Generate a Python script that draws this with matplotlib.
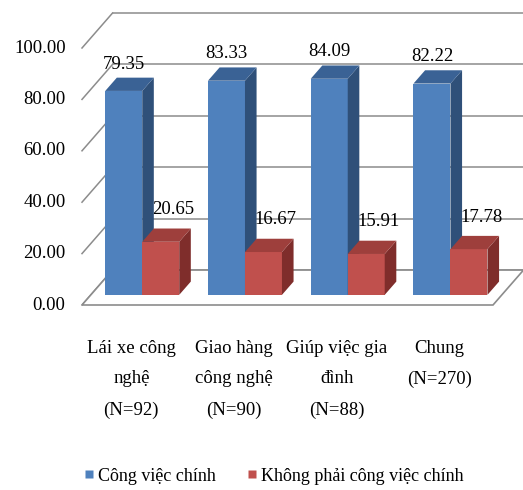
import matplotlib
matplotlib.use('Agg')
import matplotlib.pyplot as plt
from matplotlib.patches import Polygon
from matplotlib.lines import Line2D

plt.rcParams['font.family'] = ['Liberation Serif', 'DejaVu Serif']

# Dữ liệu
nhom = ['Lái xe công\nnghệ\n(N=92)', 'Giao hàng\ncông nghệ\n(N=90)',
        'Giúp việc gia\nđình\n(N=88)', 'Chung\n(N=270)']
cong_viec_chinh = [79.35, 83.33, 84.09, 82.22]
khong_phai_chinh = [20.65, 16.67, 15.91, 17.78]
nhan_truc_y = [0, 20, 40, 60, 80, 100]
ten_chuoi = ['Công việc chính', 'Không phải công việc chính']

# Màu kiểu Excel 3D: mặt trước, mặt bên, mặt trên
mau_xanh = ('#4F81BD', '#2F5079', '#3A6295')
mau_do = ('#C0504D', '#7F2D2B', '#9E3F3C')
mau_luoi = '#8C8C8C'
co_chu = 13.5

fig = plt.figure(figsize=(5.23, 4.90), dpi=100)
ax = fig.add_axes([82 / 523, 185 / 490, 411 / 523, 257 / 490])
ax.set_xlim(0, len(nhom))
ax.set_ylim(0, 100)
ax.axis('off')

# Độ sâu của sàn (theo đơn vị dữ liệu)
DX, DY = 0.297, 13.6
f0, f1 = 0.29, 0.67   # vị trí trước / sau của cột theo chiều sâu
rong = 0.36           # bề rộng mỗi cột

# Tường sau: đường lưới + đường chéo bên trái
for v in nhan_truc_y:
    ax.plot([DX, len(nhom) + DX], [v + DY, v + DY], color=mau_luoi, lw=1.1,
            zorder=1, clip_on=False)
    ax.plot([0, DX], [v, v + DY], color=mau_luoi, lw=1.1, zorder=1, clip_on=False)
    ax.text(-0.16, v, '%.2f' % v, ha='right', va='center', fontsize=co_chu)

# Sàn
san = Polygon([(0, 0), (len(nhom), 0), (len(nhom) + DX, DY), (DX, DY)],
              closed=True, facecolor='white', edgecolor=mau_luoi, lw=1.2,
              zorder=1.5, clip_on=False)
ax.add_patch(san)


def ve_cot(x0, v, mau):
    bx, by = f0 * DX, f0 * DY
    ddx, ddy = (f1 - f0) * DX, (f1 - f0) * DY
    xl, xr = x0 + bx, x0 + bx + rong
    yb, yt = by, by + v
    truoc = Polygon([(xl, yb), (xr, yb), (xr, yt), (xl, yt)], closed=True,
                    facecolor=mau[0], edgecolor='none', zorder=3, clip_on=False)
    ben = Polygon([(xr, yb), (xr + ddx, yb + ddy), (xr + ddx, yt + ddy), (xr, yt)],
                  closed=True, facecolor=mau[1], edgecolor='none', zorder=3,
                  clip_on=False)
    tren = Polygon([(xl, yt), (xr, yt), (xr + ddx, yt + ddy), (xl + ddx, yt + ddy)],
                   closed=True, facecolor=mau[2], edgecolor='none', zorder=3,
                   clip_on=False)
    ax.add_patch(truoc)
    ax.add_patch(ben)
    ax.add_patch(tren)
    return (xl + xr) / 2, yt + ddy


for i in range(len(nhom)):
    x0 = i + 0.5 - rong
    cx, cy = ve_cot(x0, cong_viec_chinh[i], mau_xanh)
    ax.text(cx, cy + 2.0, '%.2f' % cong_viec_chinh[i], ha='center', va='bottom',
            fontsize=co_chu, zorder=5)
    cx, cy = ve_cot(x0 + rong, khong_phai_chinh[i], mau_do)
    ax.text(cx + 0.12, cy + 4.0, '%.2f' % khong_phai_chinh[i], ha='center',
            va='bottom', fontsize=co_chu, zorder=5)
    ax.text(i + 0.48, -13.5, nhom[i], ha='center', va='top', fontsize=co_chu,
            linespacing=2.05)

# Chú thích
tay = [Line2D([], [], marker='s', linestyle='none', markersize=6,
              markerfacecolor=mau_xanh[0], markeredgecolor='none'),
       Line2D([], [], marker='s', linestyle='none', markersize=6,
              markerfacecolor=mau_do[0], markeredgecolor='none')]
fig.legend(tay, ten_chuoi, loc='lower center', bbox_to_anchor=(274 / 523, -0.022),
           ncol=2, frameon=False, fontsize=13, handlelength=0.6,
           handletextpad=0.2, columnspacing=1.7)

fig.savefig('out.png', dpi=100)
